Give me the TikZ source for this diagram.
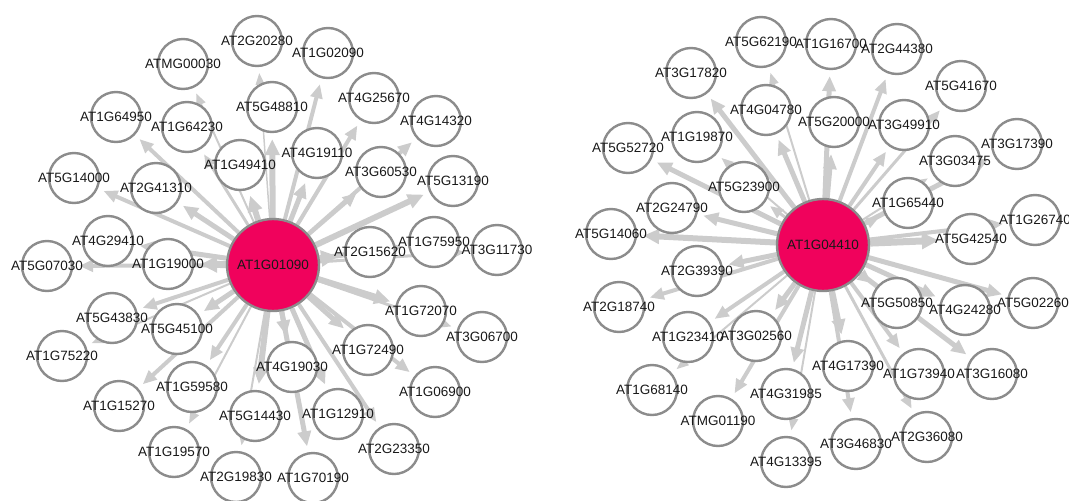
\documentclass[tikz,border=0pt]{standalone}
\usepackage{fontspec}
\setmainfont{Liberation Sans}
\usetikzlibrary{arrows.meta}
\pgfdeclarelayer{background}
\pgfdeclarelayer{fg}
\pgfsetlayers{background,main,fg}
\definecolor{hubpink}{RGB}{240,2,92}
\definecolor{ringgray}{RGB}{140,140,140}
\definecolor{edgegray}{RGB}{204,204,204}
\definecolor{txt}{RGB}{25,25,25}
\tikzset{
  gene/.style={circle, draw=ringgray, line width=2.4pt, fill=white, minimum size=50pt, inner sep=0pt},
  hub/.style={circle, draw=ringgray, line width=2.4pt, fill=hubpink, minimum size=92pt, inner sep=0pt},
  gtxt/.style={text=txt, font=\fontsize{13.5}{14}\selectfont, inner sep=0pt},
  link/.style={draw=edgegray, line cap=butt, shorten >=6pt,
    -{Triangle[length=10pt 1, width=7pt 1.2, fill=edgegray]}}
}
% gene node: name, x, y, printed text
\newcommand\gn[4]{%
  \node[gene] (#1) at (#2,#3) {};
  \begin{pgfonlayer}{fg}\node[gtxt] (#1t) at (#2,#3) {#4};\end{pgfonlayer}}
% directed link from hub to gene with a given width
\newcommand\lk[3]{\begin{pgfonlayer}{background}\draw[link, line width=#3pt] (#1) -- (#2);\end{pgfonlayer}}
\begin{document}
\begin{tikzpicture}[x=1pt, y=-1pt]
\useasboundingbox (0,0) rectangle (1069,501);

% ---------- first network ----------
\node[hub] (h1) at (273,265) {};
\begin{pgfonlayer}{fg}\node[gtxt] (h1t) at (273,265) {AT1G01090};\end{pgfonlayer}

\gn{a1}{257}{41}{AT2G20280}
\gn{a2}{328}{53}{AT1G02090}
\gn{a3}{183}{64}{ATMG00030}
\gn{a4}{374}{98}{AT4G25670}
\gn{a5}{272}{107}{AT5G48810}
\gn{a6}{436}{121}{AT4G14320}
\gn{a7}{116}{117}{AT1G64950}
\gn{a8}{187}{127}{AT1G64230}
\gn{a9}{240}{165}{AT1G49410}
\gn{a10}{317}{153}{AT4G19110}
\gn{a11}{381}{172}{AT3G60530}
\gn{a12}{453}{181}{AT5G13190}
\gn{a13}{74}{178}{AT5G14000}
\gn{a14}{156}{188}{AT2G41310}
\gn{a15}{108}{241}{AT4G29410}
\gn{a16}{434}{242}{AT1G75950}
\gn{a17}{497}{250}{AT3G11730}
\gn{a18}{370}{252}{AT2G15620}
\gn{a19}{47}{266}{AT5G07030}
\gn{a20}{168}{264}{AT1G19000}
\gn{a21}{421}{311}{AT1G72070}
\gn{a22}{112}{318}{AT5G43830}
\gn{a23}{177}{329}{AT5G45100}
\gn{a24}{482}{337}{AT3G06700}
\gn{a25}{62}{356}{AT1G75220}
\gn{a26}{292}{367}{AT4G19030}
\gn{a27}{368}{350}{AT1G72490}
\gn{a28}{192}{387}{AT1G59580}
\gn{a29}{435}{392}{AT1G06900}
\gn{a30}{119}{406}{AT1G15270}
\gn{a31}{255}{416}{AT5G14430}
\gn{a32}{338}{414}{AT1G12910}
\gn{a33}{394}{449}{AT2G23350}
\gn{a34}{174}{452}{AT1G19570}
\gn{a35}{236}{477}{AT2G19830}
\gn{a36}{313}{478}{AT1G70190}

\lk{h1}{a1}{1.5}
\lk{h1}{a2}{4}
\lk{h1}{a3}{2}
\lk{h1}{a4}{4}
\lk{h1}{a5}{6}
\lk{h1}{a6}{4}
\lk{h1}{a7}{4}
\lk{h1}{a8}{3}
\lk{h1}{a9}{6}
\lk{h1}{a10}{5}
\lk{h1}{a11}{4}
\lk{h1}{a12}{6}
\lk{h1}{a13}{4}
\lk{h1}{a14}{5}
\lk{h1}{a15}{5}
\lk{h1}{a16}{5}
\lk{h1}{a17}{3}
\lk{h1}{a18}{7}
\lk{h1}{a19}{4}
\lk{h1}{a20}{7}
\lk{h1}{a21}{6}
\lk{h1}{a22}{4}
\lk{h1}{a23}{5}
\lk{h1}{a24}{3}
\lk{h1}{a25}{2}
\lk{h1}{a26}{5}
\lk{h1}{a27}{5}
\lk{h1}{a28}{4}
\lk{h1}{a29}{4}
\lk{h1}{a30}{4}
\lk{h1}{a31}{6}
\lk{h1}{a32}{5}
\lk{h1}{a33}{4}
\lk{h1}{a34}{2}
\lk{h1}{a35}{2}
\lk{h1}{a36}{5}

% ---------- second network ----------
\node[hub] (h2) at (823,245) {};
\begin{pgfonlayer}{fg}\node[gtxt] (h2t) at (823,245) {AT1G04410};\end{pgfonlayer}

\gn{b1}{761}{42}{AT5G62190}
\gn{b2}{691}{73}{AT3G17820}
\gn{b3}{766}{110}{AT4G04780}
\gn{b4}{697}{137}{AT1G19870}
\gn{b5}{628}{148}{AT5G52720}
\gn{b6}{744}{187}{AT5G23900}
\gn{b7}{672}{208}{AT2G24790}
\gn{b8}{611}{234}{AT5G14060}
\gn{b9}{831}{44}{AT1G16700}
\gn{b10}{897}{49}{AT2G44380}
\gn{b11}{961}{86}{AT5G41670}
\gn{b12}{834}{122}{AT5G20000}
\gn{b13}{904}{125}{AT3G49910}
\gn{b14}{955}{161}{AT3G03475}
\gn{b15}{1017}{144}{AT3G17390}
\gn{b16}{908}{203}{AT1G65440}
\gn{b17}{1035}{220}{AT1G26740}
\gn{b18}{971}{239}{AT5G42540}
\gn{b19}{897}{303}{AT5G50850}
\gn{b20}{965}{310}{AT4G24280}
\gn{b21}{1033}{303}{AT5G02260}
\gn{b22}{848}{366}{AT4G17390}
\gn{b23}{919}{374}{AT1G73940}
\gn{b24}{992}{374}{AT3G16080}
\gn{b25}{856}{444}{AT3G46830}
\gn{b26}{927}{437}{AT2G36080}
\gn{b27}{697}{271}{AT2G39390}
\gn{b28}{619}{307}{AT2G18740}
\gn{b29}{688}{337}{AT1G23410}
\gn{b30}{756}{336}{AT3G02560}
\gn{b31}{652}{390}{AT1G68140}
\gn{b32}{718}{421}{ATMG01190}
\gn{b33}{786}{394}{AT4G31985}
\gn{b34}{786}{462}{AT4G13395}

\lk{h2}{b1}{2}
\lk{h2}{b2}{5}
\lk{h2}{b3}{5}
\lk{h2}{b4}{2}
\lk{h2}{b5}{5}
\lk{h2}{b6}{3}
\lk{h2}{b7}{5}
\lk{h2}{b8}{6}
\lk{h2}{b9}{5}
\lk{h2}{b10}{4}
\lk{h2}{b11}{3}
\lk{h2}{b12}{5}
\lk{h2}{b13}{4}
\lk{h2}{b14}{2}
\lk{h2}{b15}{5}
\lk{h2}{b16}{3}
\lk{h2}{b17}{4}
\lk{h2}{b18}{7}
\lk{h2}{b19}{4}
\lk{h2}{b20}{5}
\lk{h2}{b21}{5}
\lk{h2}{b22}{5}
\lk{h2}{b23}{4}
\lk{h2}{b24}{5}
\lk{h2}{b25}{4}
\lk{h2}{b26}{3}
\lk{h2}{b27}{5}
\lk{h2}{b28}{4}
\lk{h2}{b29}{4}
\lk{h2}{b30}{5}
\lk{h2}{b31}{2}
\lk{h2}{b32}{4}
\lk{h2}{b33}{5}
\lk{h2}{b34}{2}
\end{tikzpicture}
\end{document}
